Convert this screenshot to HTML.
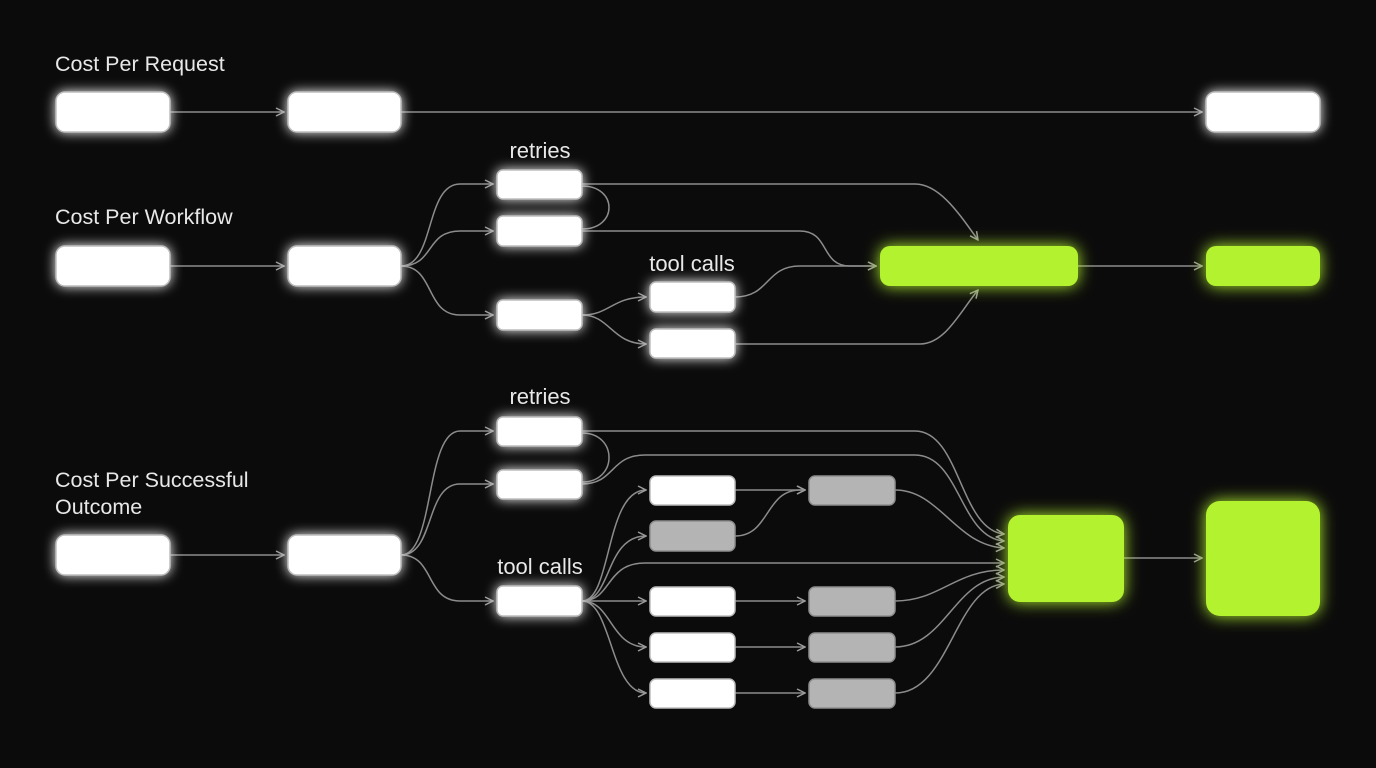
<!DOCTYPE html>
<html><head><style>
html,body{margin:0;padding:0;background:#0b0b0b;}
svg{display:block;}
text{font-family:"Liberation Sans",sans-serif;fill:#e8e8e8;}
</style></head><body>
<svg width="1376" height="768" viewBox="0 0 1376 768" xmlns="http://www.w3.org/2000/svg">
<defs>
<filter id="gw" x="-50%" y="-80%" width="200%" height="260%">
<feGaussianBlur in="SourceGraphic" stdDeviation="6" result="b"/>
<feMerge><feMergeNode in="b"/><feMergeNode in="SourceGraphic"/></feMerge>
</filter>
<filter id="gg" x="-50%" y="-80%" width="200%" height="260%">
<feGaussianBlur in="SourceGraphic" stdDeviation="8" result="b"/>
<feMerge><feMergeNode in="b"/><feMergeNode in="SourceGraphic"/></feMerge>
</filter>
<marker id="ar" viewBox="0 0 10 10" refX="9" refY="5" markerWidth="10" markerHeight="10" markerUnits="userSpaceOnUse" orient="auto">
<path d="M1,1 L9,5 L1,9" fill="none" stroke="#9a9a9a" stroke-width="1.5"/>
</marker>
</defs>
<rect width="1376" height="768" fill="#0b0b0b"/>

<text x="55" y="71" font-size="21.5">Cost Per Request</text>
<text x="55" y="224" font-size="21.5">Cost Per Workflow</text>
<text x="55" y="487" font-size="21.5">Cost Per Successful</text>
<text x="55" y="514" font-size="21.5">Outcome</text>
<text x="540" y="158" font-size="22" text-anchor="middle" fill="#cfcfcf">retries</text>
<text x="692" y="271" font-size="22" text-anchor="middle" fill="#cfcfcf">tool calls</text>
<text x="540" y="404" font-size="22" text-anchor="middle" fill="#cfcfcf">retries</text>
<text x="540" y="574" font-size="22" text-anchor="middle" fill="#cfcfcf">tool calls</text>

<g fill="none" stroke="#8c8c8c" stroke-width="1.5">
<path d="M170,112 L284,112" marker-end="url(#ar)"/>
<path d="M401,112 L1202,112" marker-end="url(#ar)"/>
<path d="M170,266 L284,266" marker-end="url(#ar)"/>
<path d="M401,266 C435,266 425,184 460,184 L493,184" marker-end="url(#ar)"/>
<path d="M401,266 C435,266 425,231 460,231 L493,231" marker-end="url(#ar)"/>
<path d="M401,266 C435,266 425,315 460,315 L493,315" marker-end="url(#ar)"/>
<path d="M582,186 C618,186 618,229 582,229"/>
<path d="M582,184 L915,184 C940,184 960,215 978,240" marker-end="url(#ar)"/>
<path d="M582,231 L800,231 C830,231 820,266 850,266 L876,266" marker-end="url(#ar)"/>
<path d="M735,297 C770,297 765,266 800,266 L876,266" marker-end="url(#ar)"/>
<path d="M735,344 L920,344 C945,344 960,312 978,290" marker-end="url(#ar)"/>
<path d="M582,315 C610,315 612,297 646,297" marker-end="url(#ar)"/>
<path d="M582,315 C610,315 612,344 646,344" marker-end="url(#ar)"/>
<path d="M1078,266 L1202,266" marker-end="url(#ar)"/>
<path d="M170,555 L284,555" marker-end="url(#ar)"/>
<path d="M401,555 C435,555 425,431 460,431 L493,431" marker-end="url(#ar)"/>
<path d="M401,555 C435,555 425,484 460,484 L493,484" marker-end="url(#ar)"/>
<path d="M401,555 C435,555 425,601 460,601 L493,601" marker-end="url(#ar)"/>
<path d="M582,433 C618,433 618,482 582,482"/>
<path d="M582,431 L915,431 C960,431 960,530 1004,534" marker-end="url(#ar)"/>
<path d="M582,484 C615,484 610,455 645,455 L915,455 C960,455 960,538 1004,541" marker-end="url(#ar)"/>
<path d="M582,601 C612,601 605,490 646,490" marker-end="url(#ar)"/>
<path d="M582,601 C612,601 605,536 646,536" marker-end="url(#ar)"/>
<path d="M582,601 C612,601 605,563 645,563 L1004,563" marker-end="url(#ar)"/>
<path d="M582,601 L646,601" marker-end="url(#ar)"/>
<path d="M582,601 C612,601 610,647 646,647" marker-end="url(#ar)"/>
<path d="M582,601 C612,601 610,693 646,693" marker-end="url(#ar)"/>
<path d="M735,490 L805,490" marker-end="url(#ar)"/>
<path d="M735,536 C770,536 765,490 800,490 L805,490" marker-end="url(#ar)"/>
<path d="M735,601 L805,601" marker-end="url(#ar)"/>
<path d="M735,647 L805,647" marker-end="url(#ar)"/>
<path d="M735,693 L805,693" marker-end="url(#ar)"/>
<path d="M895,490 C940,490 955,545 1004,548" marker-end="url(#ar)"/>
<path d="M895,601 C940,601 955,570 1004,570" marker-end="url(#ar)"/>
<path d="M895,647 C945,647 955,578 1004,577" marker-end="url(#ar)"/>
<path d="M895,693 C950,693 955,586 1004,584" marker-end="url(#ar)"/>
<path d="M1124,558 L1202,558" marker-end="url(#ar)"/>
</g>

<g fill="#ffffff" stroke="#bdbdbd" stroke-width="1.5" filter="url(#gw)">
<rect x="56" y="92" width="114" height="40" rx="9"/>
<rect x="288" y="92" width="113" height="40" rx="9"/>
<rect x="1206" y="92" width="114" height="40" rx="9"/>
<rect x="56" y="246" width="114" height="40" rx="9"/>
<rect x="288" y="246" width="113" height="40" rx="9"/>
<rect x="497" y="170" width="85" height="29" rx="6"/>
<rect x="497" y="216" width="85" height="30" rx="6"/>
<rect x="497" y="300" width="85" height="30" rx="6"/>
<rect x="650" y="282" width="85" height="30" rx="6"/>
<rect x="650" y="329" width="85" height="29" rx="6"/>
<rect x="56" y="535" width="114" height="40" rx="9"/>
<rect x="288" y="535" width="113" height="40" rx="9"/>
<rect x="497" y="417" width="85" height="29" rx="6"/>
<rect x="497" y="470" width="85" height="29" rx="6"/>
<rect x="497" y="586" width="85" height="30" rx="6"/>
</g>
<g fill="#ffffff" stroke="#bdbdbd" stroke-width="1.5">
<rect x="650" y="476" width="85" height="29" rx="6"/>
<rect x="650" y="587" width="85" height="29" rx="6"/>
<rect x="650" y="633" width="85" height="29" rx="6"/>
<rect x="650" y="679" width="85" height="29" rx="6"/>
</g>
<g fill="#b4b4b4" stroke="#8e8e8e" stroke-width="1.5">
<rect x="650" y="521" width="85" height="30" rx="6"/>
<rect x="809" y="476" width="86" height="29" rx="6"/>
<rect x="809" y="587" width="86" height="29" rx="6"/>
<rect x="809" y="633" width="86" height="29" rx="6"/>
<rect x="809" y="679" width="86" height="29" rx="6"/>
</g>
<g fill="#b3f22e" filter="url(#gg)">
<rect x="880" y="246" width="198" height="40" rx="10"/>
<rect x="1206" y="246" width="114" height="40" rx="10"/>
<rect x="1008" y="515" width="116" height="87" rx="12"/>
<rect x="1206" y="501" width="114" height="115" rx="14"/>
</g>
</svg>
</body></html>
